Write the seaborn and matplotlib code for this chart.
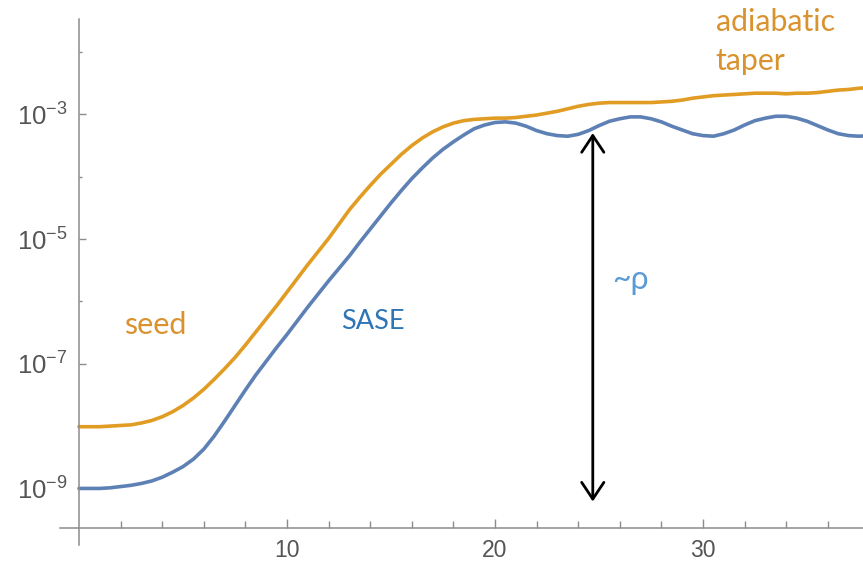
import numpy as np
import pandas as pd
import matplotlib
matplotlib.use("Agg")
import matplotlib.pyplot as plt
import matplotlib.ticker as mticker
import seaborn as sns

# Undulator position (gain lengths), sampled every half unit
z = [0, 0.5, 1, 1.5, 2, 2.5, 3, 3.5, 4, 4.5, 5, 5.5, 6, 6.5, 7, 7.5, 8, 8.5,
     9, 9.5, 10, 10.5, 11, 11.5, 12, 12.5, 13, 13.5, 14, 14.5, 15, 15.5, 16,
     16.5, 17, 17.5, 18, 18.5, 19, 19.5, 20, 20.5, 21, 21.5, 22, 22.5, 23,
     23.5, 24, 24.5, 25, 25.5, 26, 26.5, 27, 27.5, 28, 28.5, 29, 29.5, 30,
     30.5, 31, 31.5, 32, 32.5, 33, 33.5, 34, 34.5, 35, 35.5, 36, 36.5, 37,
     37.5, 38]

# log10 of radiated power, seeded FEL with adiabatic taper
seed_log = [-8.01, -8.01, -8.01, -8.00, -7.99, -7.98, -7.95, -7.91, -7.85,
            -7.77, -7.67, -7.55, -7.41, -7.25, -7.08, -6.90, -6.70, -6.49,
            -6.28, -6.07, -5.85, -5.63, -5.41, -5.20, -4.99, -4.76, -4.53,
            -4.33, -4.14, -3.96, -3.80, -3.64, -3.50, -3.38, -3.28, -3.20,
            -3.14, -3.10, -3.08, -3.07, -3.06, -3.06, -3.05, -3.03, -3.01,
            -2.98, -2.95, -2.91, -2.87, -2.84, -2.82, -2.81, -2.81, -2.81,
            -2.81, -2.81, -2.80, -2.79, -2.77, -2.74, -2.72, -2.70, -2.69,
            -2.68, -2.67, -2.66, -2.66, -2.66, -2.67, -2.66, -2.66, -2.65,
            -2.63, -2.61, -2.60, -2.58, -2.57]

# log10 of radiated power, SASE
sase_log = [-9.00, -9.00, -9.00, -8.99, -8.97, -8.95, -8.92, -8.88, -8.82,
            -8.74, -8.65, -8.53, -8.37, -8.16, -7.92, -7.67, -7.42, -7.18,
            -6.96, -6.74, -6.53, -6.31, -6.09, -5.88, -5.67, -5.47, -5.27,
            -5.05, -4.84, -4.63, -4.42, -4.22, -4.03, -3.86, -3.70, -3.56,
            -3.44, -3.33, -3.23, -3.17, -3.13, -3.12, -3.14, -3.19, -3.26,
            -3.31, -3.34, -3.35, -3.32, -3.26, -3.18, -3.11, -3.07, -3.04,
            -3.04, -3.07, -3.12, -3.19, -3.25, -3.31, -3.34, -3.35, -3.31,
            -3.25, -3.17, -3.10, -3.06, -3.03, -3.03, -3.06, -3.11, -3.18,
            -3.25, -3.31, -3.34, -3.35, -3.34]

y_major_exp = [-9, -7, -5, -3]
y_minor_exp = [-8, -6, -4, -2]
x_major = [10, 20, 30]
x_minor = [2, 4, 6, 8, 12, 14, 16, 18, 22, 24, 26, 28, 32, 34, 36]

SEED_COLOR = "#E19C24"
SASE_COLOR = "#5E81B5"
AXIS_GRAY = "#8c8c8c"
LABEL_GRAY = "#555555"

sns.set_theme(style="white")
plt.rcParams["font.family"] = ["Liberation Sans", "DejaVu Sans"]
plt.rcParams["mathtext.fontset"] = "custom"
plt.rcParams["mathtext.rm"] = "Liberation Sans"
plt.rcParams["mathtext.it"] = "Liberation Sans"

df = pd.DataFrame({
    "z": z + z,
    "power": [10.0 ** v for v in seed_log] + [10.0 ** v for v in sase_log],
    "mode": ["seed"] * len(z) + ["SASE"] * len(z),
})

fig = plt.figure(figsize=(8.63, 5.62), dpi=100)
ax = fig.add_axes([60 / 863, 0, 803 / 863, 1])

sns.lineplot(data=df, x="z", y="power", hue="mode",
             palette={"seed": SEED_COLOR, "SASE": SASE_COLOR},
             linewidth=2.6, legend=False, ax=ax, sort=False)

ax.set_yscale("log")
x_lo, x_hi = -0.913, 37.69
ax.set_xlim(x_lo, x_hi)
ax.set_ylim(10 ** -10.18, 10 ** -1.165)
ax.set_xlabel("")
ax.set_ylabel("")

# Axes crossing near the origin, drawn in grey
for side in ("top", "right"):
    ax.spines[side].set_visible(False)
ax.spines["left"].set_position(("data", 0))
ax.spines["left"].set_bounds(10 ** -9.91, 10 ** -1.47)
ax.spines["bottom"].set_position(("data", 10 ** -9.64))
ax.spines["bottom"].set_bounds(x_lo, x_hi)
for side in ("left", "bottom"):
    ax.spines[side].set_color(AXIS_GRAY)
    ax.spines[side].set_linewidth(1.1)

ax.yaxis.set_major_locator(mticker.FixedLocator([10.0 ** e for e in y_major_exp]))
ax.yaxis.set_minor_locator(mticker.FixedLocator([10.0 ** e for e in y_minor_exp]))
ax.yaxis.set_major_formatter(mticker.FixedFormatter(
    [r"$10^{%d}$" % e for e in y_major_exp]))
ax.yaxis.set_minor_formatter(mticker.NullFormatter())
ax.xaxis.set_major_locator(mticker.FixedLocator(x_major))
ax.xaxis.set_minor_locator(mticker.FixedLocator(x_minor))
ax.xaxis.set_major_formatter(mticker.FixedFormatter([str(v) for v in x_major]))

ax.tick_params(axis="y", which="major", direction="in", length=5, width=1,
               color=AXIS_GRAY, labelcolor=LABEL_GRAY, labelsize=18.5, pad=8,
               left=True)
ax.tick_params(axis="y", which="minor", direction="in", length=2.5, width=1,
               color=AXIS_GRAY, left=True)
ax.tick_params(axis="x", which="major", direction="in", length=6.5, width=1,
               color=AXIS_GRAY, labelcolor=LABEL_GRAY, labelsize=16.5, pad=8,
               bottom=True)
ax.tick_params(axis="x", which="minor", direction="in", length=5, width=1,
               color=AXIS_GRAY, bottom=True)

# Saturation-level arrow
arrow_x = 24.7
ax.annotate("", xy=(arrow_x, 10 ** -3.30), xytext=(arrow_x, 10 ** -9.21),
            arrowprops=dict(arrowstyle="<->,head_length=0.6,head_width=0.4",
                            lw=2, color="black", mutation_scale=20,
                            shrinkA=0, shrinkB=0))

text_font = ["Lato", "DejaVu Sans"]
ax.text(3.65, 10 ** -6.38, "seed", color="#D9922E", fontsize=22,
        family=text_font, ha="center", va="center")
ax.text(14.15, 10 ** -6.33, "SASE", color="#2E75B6", fontsize=19.5,
        family=text_font, ha="center", va="center")
ax.text(26.5, 10 ** -5.66, "~ρ", color="#5B9BD5", fontsize=23,
        family=text_font, ha="center", va="center")
ax.text(30.6, 10 ** -1.51, "adiabatic", color="#D9922E", fontsize=21.8,
        family=text_font, ha="left", va="center")
ax.text(30.6, 10 ** -2.15, "taper", color="#D9922E", fontsize=21.8,
        family=text_font, ha="left", va="center")

fig.savefig("out.png", dpi=100)
